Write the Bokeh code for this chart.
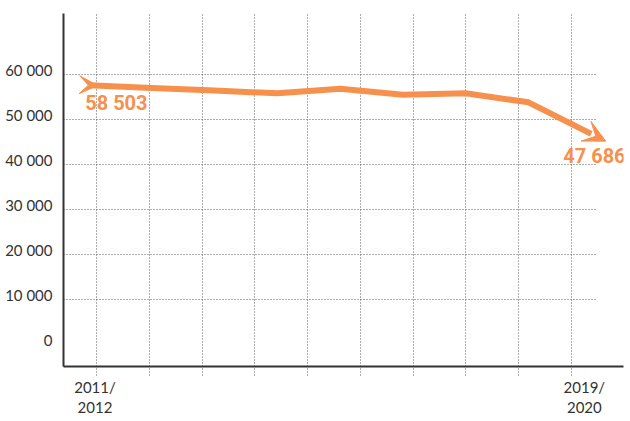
from bokeh.plotting import figure
from bokeh.models import Range1d, FixedTicker, LinearAxis, Arrow, VeeHead, Label
from bokeh.embed import file_html
from bokeh.resources import INLINE

# ---------------- data ----------------
years = ["2011/2012", "2012/2013", "2013/2014", "2014/2015", "2015/2016",
         "2016/2017", "2017/2018", "2018/2019", "2019/2020"]
students = [58503, 57900, 57300, 56700, 57700, 56400, 56700, 54700, 47686]
y_tick_values = [0, 10000, 20000, 30000, 40000, 50000, 60000]
y_tick_labels = ["0", "10 000", "20 000", "30 000", "40 000", "50 000", "60 000"]
x_tick_labels = ["2011/\n2012", "2019/\n2020"]
first_label = "58 503"
last_label = "47 686"

# ---------------- style / layout ----------------
ORANGE = "#F7904C"
INK = "#333333"
GRID = "#5a5a5a"
FONT = "Lato"
NUM_FONT = "Roboto"

idx = list(range(len(years)))
Y_MAIN = (-4889, 73556)
LINE_SHIFT = 880      # line drawn slightly below the gridline calibration
LABEL_SHIFT = -890    # tick labels sit slightly above their gridlines
X_START, X_END = -0.41, 8.514
VGRID_X0, VGRID_DX, N_VGRID = 0.1155, 0.8411, 10
HGRID_END = 8.068
vgrid = [VGRID_X0 + k * VGRID_DX for k in range(N_VGRID)]
hgrid = [v for v in y_tick_values if v > 0]
lab_pos = [idx[0] + 0.092, idx[-1] - 0.11]

p = figure(width=630, height=421,
           x_range=Range1d(X_START, X_END), y_range=Range1d(*Y_MAIN),
           output_backend="svg", toolbar_location=None,
           min_border_left=63, min_border_right=7, min_border_top=13, min_border_bottom=55,
           y_axis_location=None, x_axis_location="below")
p.outline_line_color = None
p.background_fill_color = "white"
p.border_fill_color = "white"
p.extra_y_ranges = {
    "line": Range1d(Y_MAIN[0] + LINE_SHIFT, Y_MAIN[1] + LINE_SHIFT),
    "ylab": Range1d(Y_MAIN[0] + LABEL_SHIFT, Y_MAIN[1] + LABEL_SHIFT),
}

# x axis: axis line, dotted stubs (minor ticks) below the frame, year labels
xax = p.xaxis[0]
xax.ticker = FixedTicker(ticks=lab_pos, minor_ticks=vgrid)
xax.major_label_overrides = dict(zip(lab_pos, x_tick_labels))
xax.axis_line_color = INK
xax.axis_line_width = 2
xax.major_tick_out = 0
xax.major_tick_in = 0
xax.major_tick_line_color = None
xax.minor_tick_out = 9
xax.minor_tick_in = 0
xax.minor_tick_line_color = GRID
xax.minor_tick_line_dash = "1 2"
xax.major_label_standoff = 2
xax.major_label_text_font = FONT
xax.major_label_text_font_size = "15px"
xax.major_label_text_color = INK
xax.major_label_text_line_height = 1.15

# vertical grid
p.xgrid.ticker = FixedTicker(ticks=vgrid)
p.xgrid.grid_line_color = GRID
p.xgrid.grid_line_dash = "1 2"
p.ygrid.visible = False

# horizontal grid (stops short of the right end)
p.segment(x0=[X_START] * len(hgrid), x1=[HGRID_END] * len(hgrid), y0=hgrid, y1=hgrid,
          line_color=GRID, line_dash="1 2", line_width=1)

# y axis
yax = LinearAxis(y_range_name="ylab", ticker=FixedTicker(ticks=y_tick_values),
                 major_label_overrides=dict(zip(y_tick_values, y_tick_labels)),
                 axis_line_color=INK, axis_line_width=2,
                 major_tick_line_color=None, minor_tick_line_color=None,
                 major_label_text_font=FONT, major_label_text_font_size="15px",
                 major_label_text_color=INK, major_label_standoff=5)
p.add_layout(yax, "left")

# data line
p.line(idx, students, y_range_name="line", line_color=ORANGE, line_width=6, line_join="round")

tail_t, head_t = 0.13, 0.23
p.add_layout(Arrow(x_start=idx[0], y_start=students[0],
                   x_end=idx[0] + tail_t * (idx[1] - idx[0]),
                   y_end=students[0] + tail_t * (students[1] - students[0]),
                   end=VeeHead(size=18, fill_color=ORANGE, line_color=ORANGE),
                   line_alpha=0, y_range_name="line"))
p.add_layout(Arrow(x_start=idx[-2], y_start=students[-2],
                   x_end=idx[-1] + head_t * (idx[-1] - idx[-2]),
                   y_end=students[-1] + head_t * (students[-1] - students[-2]),
                   end=VeeHead(size=22, fill_color=ORANGE, line_color=ORANGE),
                   line_alpha=0, y_range_name="line"))

p.add_layout(Label(x=idx[0], y=students[0], y_range_name="line", text=first_label,
                   x_offset=-4, y_offset=-6, text_baseline="top",
                   text_font=NUM_FONT, text_font_style="bold", text_font_size="20px",
                   text_color=ORANGE))
p.add_layout(Label(x=idx[-1], y=students[-1], y_range_name="line", text=last_label,
                   x_offset=-28, y_offset=-10, text_baseline="top",
                   text_font=NUM_FONT, text_font_style="bold", text_font_size="20px",
                   text_color=ORANGE))

open("out.html", "w").write(file_html(p, INLINE))
